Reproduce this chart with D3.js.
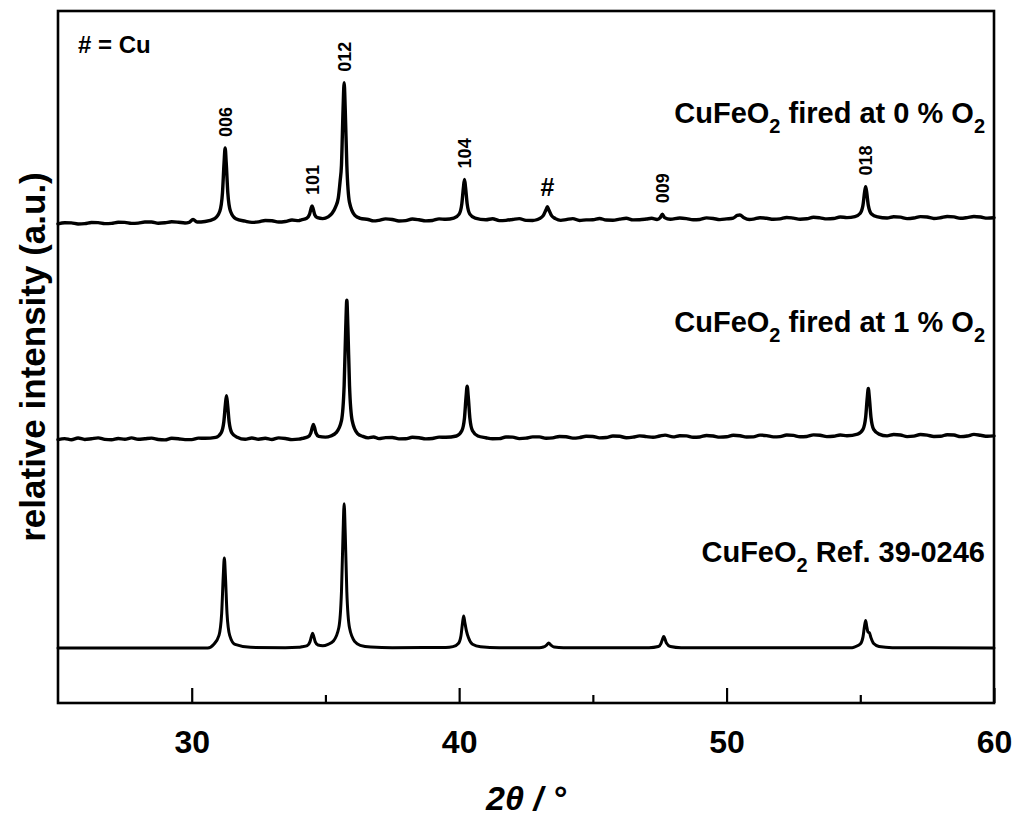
<!DOCTYPE html>
<html>
<head>
<meta charset="utf-8">
<script src="https://cdnjs.cloudflare.com/ajax/libs/d3/7.8.5/d3.min.js"></script>
<style>
	body { margin: 0; background: #fff; }
	text { font-family: 'Liberation Sans', Arial, Helvetica, sans-serif; font-weight: bold; fill: #000; }
	.trace { fill: none; stroke: #000; stroke-linejoin: round; stroke-linecap: round; }
</style>
</head>
<body>
<div id="chart"></div>
<script>
// data ///////////////////////////////////////////////////////////////////////////
var xTicks = [30, 40, 50, 60];
var xMinorTicks = [35, 45, 55];

// trace names, drawn bottom to top
var traceNames = ['CuFeO2 Ref. 39-0246', 'CuFeO2 fired at 1 % O2', 'CuFeO2 fired at 0 % O2'];
var traceOffsets = [38.2, 182.4, 332.2];

// [2theta, intensity above baseline] (a.u.)
var refPattern = [
	[25.0, 0], [30.6, 0],
	[30.82, 2.4], [31.02, 8.7], [31.12, 24], [31.18, 50], [31.22, 62.4], [31.26, 50], [31.32, 24], [31.42, 8.7], [31.62, 2.4],
	[32.2, 0.4], [33.5, 0.2], [34.0, 0.4],
	[34.12, 0.8], [34.32, 1.6], [34.42, 4.2], [34.48, 8.2], [34.52, 10.2], [34.56, 8.2], [34.62, 4.2], [34.72, 2], [34.9, 1.5],
	[35.1, 2.5], [35.3, 4.8], [35.5, 14], [35.6, 39], [35.66, 80], [35.7, 100], [35.74, 80], [35.8, 39], [35.9, 14], [36.1, 4.3], [36.3, 1.8], [36.7, 0.6],
	[37.5, 0.2], [39.5, 0.3],
	[39.77, 0.9], [39.97, 3.1], [40.07, 8.7], [40.13, 17.8], [40.17, 22.2], [40.21, 18], [40.27, 12], [40.35, 7], [40.5, 2.5], [40.8, 0.8],
	[41.5, 0.2], [43.0, 0.2],
	[43.15, 0.6], [43.27, 2.0], [43.35, 3.5], [43.43, 2.0], [43.55, 0.6],
	[43.9, 0.1], [47.1, 0.2],
	[47.45, 1.0], [47.55, 3.2], [47.61, 6.4], [47.65, 8], [47.69, 6.4], [47.75, 3.4], [47.9, 1.0],
	[48.3, 0.2], [54.7, 0.2],
	[54.8, 0.8], [55.0, 2.7], [55.1, 7.5], [55.16, 15.3], [55.2, 19], [55.24, 15], [55.29, 11], [55.34, 10.5], [55.4, 7], [55.5, 3], [55.7, 1],
	[56.2, 0.2], [60.0, 0]
];

var pattern1 = [
	[25.0, 0.3], [25.25, 1.0], [25.5, 0.2], [25.75, 1.4], [26.0, 0.4], [26.25, 0.9], [26.5, 1.5], [26.75, 0.5], [27.0, 0.2], [27.25, 1.1], [27.5, 0.6],
	[27.75, 1.5], [28.0, 0.5], [28.25, 0.9], [28.5, 1.3], [28.75, 0.4], [29.0, 0.1], [29.25, 1.2], [29.5, 0.9], [29.75, 0.3], [30.0, 0.3], [30.25, 1.3], [30.5, 1.2],
	[30.9, 1.9], [31.1, 5], [31.2, 12.5], [31.26, 24.8], [31.3, 30.8], [31.34, 24.8], [31.4, 12.5], [31.5, 5], [31.7, 1.9],
	[32.0, 0.5], [32.25, 1.4], [32.5, 0.6], [32.75, 1.2], [33.0, 0.4], [33.25, 1.5], [33.5, 1.1], [33.75, 0.3], [34.0, 0.6],
	[34.15, 1.2], [34.35, 2.2], [34.45, 4.7], [34.51, 8.8], [34.55, 10.8], [34.59, 8.8], [34.65, 4.7], [34.75, 2.5],
	[35.0, 2.0], [35.2, 2.8], [35.4, 5.1], [35.6, 13.5], [35.7, 38], [35.76, 78], [35.8, 97], [35.84, 78], [35.9, 38], [36.0, 13.5], [36.2, 4.5], [36.4, 2.5], [36.6, 1.5],
	[36.8, 2.1], [37.0, 1.0], [37.25, 1.7], [37.5, 1.8], [37.75, 0.8], [38.0, 0.9], [38.25, 1.9], [38.5, 1.6], [38.75, 0.8], [39.0, 1.1], [39.25, 2.0], [39.5, 1.9],
	[39.9, 2.8], [40.1, 6.4], [40.2, 15.4], [40.26, 30.2], [40.3, 37.4], [40.34, 30.2], [40.4, 15.4], [40.5, 6.4], [40.7, 2.8],
	[41.0, 1.6], [41.25, 0.9], [41.5, 1.0], [41.75, 2.1], [42.0, 2.0], [42.25, 1.0], [42.5, 1.3], [42.75, 2.2], [43.0, 2.2], [43.25, 1.2], [43.5, 1.5],
	[43.75, 2.5], [44.0, 2.3], [44.25, 1.3], [44.5, 1.7], [44.75, 2.6], [45.0, 2.5], [45.25, 1.5], [45.5, 1.8], [45.75, 2.8], [46.0, 2.6], [46.25, 1.6], [46.5, 2.0],
	[46.75, 2.9], [47.0, 2.4], [47.25, 1.9], [47.5, 2.8], [47.7, 3.4], [48.0, 2.2], [48.25, 3.0], [48.5, 2.9], [48.75, 1.9], [49.0, 2.1], [49.25, 3.2], [49.5, 2.8],
	[49.75, 2.0], [50.0, 2.3], [50.25, 3.3], [50.5, 3.0], [50.75, 2.1], [51.0, 2.2], [51.25, 3.4], [51.5, 3.1], [51.75, 2.2], [52.0, 2.4], [52.25, 3.5], [52.5, 3.2],
	[52.75, 2.3], [53.0, 2.5], [53.25, 3.6], [53.5, 3.3], [53.75, 2.4], [54.0, 2.6], [54.25, 3.5], [54.5, 3.0],
	[54.9, 4.1], [55.1, 7.4], [55.2, 15.7], [55.26, 29.2], [55.3, 35.8], [55.34, 29.2], [55.4, 15.7], [55.5, 7.4], [55.7, 4.1],
	[56.0, 2.9], [56.25, 3.8], [56.5, 3.5], [56.75, 2.4], [57.0, 2.7], [57.25, 3.8], [57.5, 3.4], [57.75, 2.5], [58.0, 2.6], [58.25, 3.7], [58.5, 3.5],
	[58.75, 2.4], [59.0, 2.8], [59.25, 3.9], [59.5, 3.3], [59.75, 2.6], [60.0, 2.9]
];

var pattern0 = [
	[25.0, 0.2], [25.25, 0.9], [25.5, 0.8], [25.75, 0.1], [26.0, 0.3], [26.25, 1.1], [26.5, 1.0], [26.75, 0.3], [27.0, 0.5], [27.25, 1.3], [27.5, 1.2],
	[27.75, 0.5], [28.0, 0.7], [28.25, 1.4], [28.5, 1.4], [28.75, 0.6], [29.0, 0.9], [29.25, 1.6], [29.5, 1.3], [29.75, 0.8],
	[29.9, 1.2], [30.05, 3.2], [30.2, 1.4], [30.5, 1.8],
	[30.85, 3.7], [31.05, 8.9], [31.15, 21.7], [31.21, 42.6], [31.25, 52.8], [31.29, 42.6], [31.35, 21.7], [31.45, 8.9], [31.65, 3.7],
	[32.0, 2.0], [32.25, 1.2], [32.5, 1.5], [32.75, 2.5], [33.0, 2.3], [33.25, 1.4], [33.5, 1.8], [33.75, 2.8], [34.0, 2.4],
	[34.1, 3.0], [34.3, 4.0], [34.4, 6.5], [34.46, 10.6], [34.5, 12.6], [34.54, 10.6], [34.6, 6.5], [34.7, 4.4],
	[34.9, 3.8], [35.1, 5.0], [35.25, 7.5], [35.38, 12], [35.48, 18], [35.55, 30], [35.6, 41], [35.66, 80], [35.7, 98], [35.74, 80], [35.8, 41], [35.9, 15], [36.1, 6], [36.3, 4], [36.6, 3.2],
	[36.8, 2.2], [37.0, 2.6], [37.25, 3.6], [37.5, 3.2], [37.75, 2.1], [38.0, 2.4], [38.25, 3.5], [38.5, 3.0], [38.75, 2.2], [39.0, 2.5], [39.25, 3.6], [39.5, 3.3],
	[39.8, 4.1], [40.0, 6.9], [40.1, 14], [40.16, 25.4], [40.2, 31], [40.24, 25.4], [40.3, 14], [40.4, 6.9], [40.6, 4.1],
	[41.0, 3.0], [41.25, 3.7], [41.5, 2.4], [41.75, 2.6], [42.0, 3.2], [42.25, 3.8], [42.5, 2.6], [42.75, 2.5], [42.9, 3.0],
	[43.0, 3.8], [43.15, 6], [43.25, 10], [43.3, 12], [43.35, 10], [43.45, 6], [43.6, 3.8],
	[43.8, 2.6], [44.0, 3.1], [44.25, 3.8], [44.5, 2.5], [44.75, 2.9], [45.0, 3.0], [45.25, 3.9], [45.5, 2.8], [45.75, 2.7], [46.0, 3.4], [46.25, 4.0],
	[46.5, 2.9], [46.75, 3.0], [47.0, 3.5], [47.2, 4.0], [47.4, 3.2],
	[47.52, 4.5], [47.6, 6.8], [47.68, 4.5],
	[47.9, 3.3], [48.25, 4.2], [48.5, 3.8], [48.75, 3.0], [49.0, 3.2], [49.25, 4.3], [49.5, 3.9], [49.75, 3.1], [50.0, 3.6], [50.25, 4.2],
	[50.4, 6.0], [50.5, 6.3], [50.65, 4.4],
	[50.85, 3.2], [51.0, 3.4], [51.25, 4.4], [51.5, 4.0], [51.75, 3.3], [52.0, 3.6], [52.25, 4.6], [52.5, 4.1], [52.75, 3.4], [53.0, 3.7], [53.25, 4.7],
	[53.5, 4.3], [53.75, 3.6], [54.0, 3.9], [54.25, 4.9], [54.5, 4.5],
	[54.8, 5.2], [55.0, 7.5], [55.1, 13], [55.16, 22], [55.2, 26], [55.24, 22], [55.3, 13], [55.42, 7], [55.65, 5.0],
	[56.0, 4.2], [56.25, 5.1], [56.5, 4.8], [56.75, 3.8], [57.0, 4.2], [57.25, 5.2], [57.5, 4.9], [57.75, 3.9], [58.0, 4.4], [58.25, 5.3], [58.5, 5.0],
	[58.75, 4.0], [59.0, 4.5], [59.25, 5.3], [59.5, 4.9], [59.75, 4.1], [60.0, 4.4]
];

var patterns = [refPattern, pattern1, pattern0];

// reflections marked on the 0 % O2 pattern
var peakLabels = ['006', '101', '012', '104', '#', '009', '018'];
var peakPositions = [31.25, 34.5, 35.7, 40.2, 43.3, 47.6, 55.2];

// chart ///////////////////////////////////////////////////////////////////////////
var width = 1024, height = 822;
var margin = {top: 11, right: 30, bottom: 119, left: 58};
var plotw = width - margin.left - margin.right,
	ploth = height - margin.top - margin.bottom;

var svg = d3.select('#chart').append('svg')
	.attr('width', width)
	.attr('height', height);

var g = svg.append('g')
	.attr('transform', 'translate(' + margin.left + ',' + margin.top + ')');

var x = d3.scaleLinear().domain([25, 60]).range([0, plotw]);
var y = d3.scaleLinear().domain([0, 480]).range([ploth, 0]);

var line = d3.line()
	.x(function(d) { return x(d[0]); })
	.y(function(d) { return y(d[1]); })
	.curve(d3.curveMonotoneX);

// traces
patterns.forEach(function(p, i) {
	var off = traceOffsets[i];
	g.append('path')
		.attr('class', 'trace')
		.attr('stroke-width', i == 0 ? 3 : 3.4)
		.attr('d', line(p.map(function(d) { return [d[0], d[1] + off]; })));
});

// trace labels, formula subscript
var labelY = [551, 321, 112];
traceNames.forEach(function(n, i) {
	var t = g.append('text')
		.attr('x', plotw - 9)
		.attr('y', labelY[i])
		.attr('text-anchor', 'end')
		.attr('font-size', 29);
	var parts = n.split('O2');
	t.append('tspan').text(parts[0] + 'O');
	t.append('tspan').attr('font-size', 20).attr('dy', 10).text('2');
	if(parts.length > 2) {
		t.append('tspan').attr('dy', -10).text(parts[1] + 'O');
		t.append('tspan').attr('font-size', 20).attr('dy', 10).text('2');
	}
	else
		t.append('tspan').attr('dy', -10).text(parts[1]);
});

// peak labels
var topPattern = patterns[2], topOff = traceOffsets[2];
peakLabels.forEach(function(lab, i) {
	var px = peakPositions[i];
	var hmax = d3.max(topPattern.filter(function(d) { return Math.abs(d[0] - px) < 0.1; }), function(d) { return d[1]; });
	var py = y(hmax + topOff) - 11;
	if(lab == '#') {
		g.append('text')
			.attr('x', x(px))
			.attr('y', py)
			.attr('text-anchor', 'middle')
			.attr('font-size', 25)
			.text(lab);
	}
	else {
		g.append('text')
			.attr('transform', 'translate(' + x(px) + ',' + py + ') rotate(-90)')
			.attr('dy', '0.36em')
			.attr('font-size', 18)
			.text(lab);
	}
});

g.append('text')
	.attr('x', 20)
	.attr('y', 42)
	.attr('font-size', 24)
	.text('# = Cu');

// axes
var xAxis = g.append('g')
	.attr('transform', 'translate(0,' + ploth + ')')
	.call(d3.axisBottom(x).tickValues(xTicks).tickSizeInner(-15).tickSizeOuter(0).tickPadding(27).tickFormat(d3.format('d')));
var xMinor = g.append('g')
	.attr('transform', 'translate(0,' + ploth + ')')
	.call(d3.axisBottom(x).tickValues(xMinorTicks).tickSizeInner(-8).tickSizeOuter(0).tickFormat(''));

g.selectAll('.domain').remove();
g.selectAll('.tick line').attr('stroke', '#000').attr('stroke-width', 2.2);
xAxis.selectAll('.tick text')
	.attr('font-size', 32)
	.attr('font-family', "'Liberation Sans', Arial, sans-serif")
	.attr('font-weight', 'bold')
	.attr('fill', '#000');

g.append('rect')
	.attr('x', 0)
	.attr('y', 0)
	.attr('width', plotw)
	.attr('height', ploth)
	.attr('fill', 'none')
	.attr('stroke', '#000')
	.attr('stroke-width', 2.6);

// axis titles
svg.append('text')
	.attr('x', margin.left + plotw / 2)
	.attr('y', 810)
	.attr('text-anchor', 'middle')
	.attr('font-size', 34)
	.attr('font-style', 'italic')
	.text('2\u03b8 / \u00b0');

svg.append('text')
	.attr('transform', 'translate(45,' + 357 + ') rotate(-90)')
	.attr('text-anchor', 'middle')
	.attr('font-size', 35)
	.text('relative intensity (a.u.)');
</script>
</body>
</html>
